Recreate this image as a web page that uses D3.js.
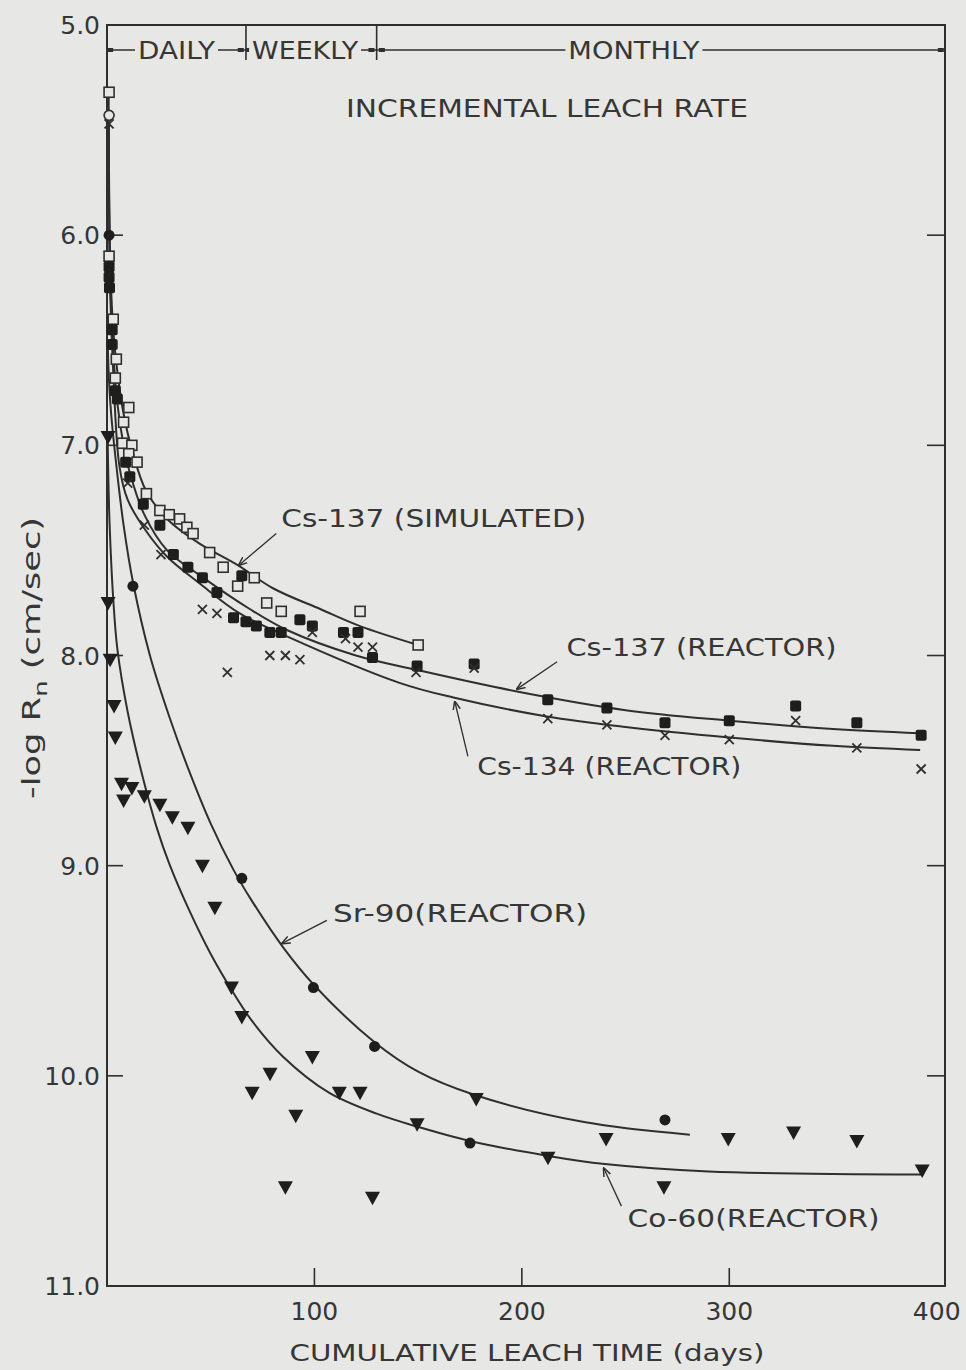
<!DOCTYPE html>
<html>
<head>
<meta charset="utf-8">
<script src="https://cdn.jsdelivr.net/npm/d3@7"></script>
<style>
body { margin: 0; background: #e7e7e5; }
text { font-family: "DejaVu Sans", sans-serif; fill: #363636; }
</style>
</head>
<body>
<div class="chart"></div>
<script>
var width = 966,
    height = 1370,
    ink = "#2f2f2f",
    paper = "#e7e7e5";

// axis ticks
var yTicks = [5, 6, 7, 8, 9, 10, 11];
var xTicks = [100, 200, 300, 400];
var innerYTicks = [6, 7, 8, 9, 10];
var innerXTicks = [100, 200, 300];

// leach periods (days)
var periodBreaks = [67, 130];
var periodLabels = ["DAILY", "WEEKLY", "MONTHLY"];
var periodLabelDays = [33.5, 95.5, 254];

// measured points [day, -log Rn]
var cs137SimPts = [[1,5.32],[1,6.10],[3,6.40],[4.5,6.59],[4,6.68],[10.5,6.82],[8,6.89],[7.5,6.99],[12,7.0],
  [10.5,7.04],[14.5,7.08],[19,7.23],[25.5,7.31],[30,7.33],[35,7.35],[38.5,7.39],[41.5,7.42],[49.5,7.51],
  [56,7.58],[63,7.67],[71,7.63],[77,7.75],[84,7.79],[122,7.79],[150,7.95]];
var cs137RctPts = [[1,6.15],[1,6.2],[1.2,6.25],[2.5,6.45],[2.5,6.52],[4,6.74],[5,6.78],[9,7.08],[11,7.15],
  [17.5,7.28],[25.5,7.38],[32,7.52],[39,7.58],[46,7.63],[53,7.70],[61,7.82],[65,7.62],[67,7.84],[72,7.86],
  [78.5,7.89],[84,7.89],[93,7.83],[99,7.86],[114,7.89],[121,7.89],[128,8.01],[149.5,8.05],[177,8.04],
  [212.5,8.21],[241,8.25],[269,8.32],[300,8.31],[332,8.24],[361.5,8.32],[392.5,8.38]];
var cs134Pts = [[1,5.47],[10,7.18],[18,7.38],[26,7.52],[46,7.78],[53,7.80],[58,8.08],[78.5,8.0],[86,8.0],
  [93,8.02],[99,7.89],[115,7.92],[121,7.96],[128,7.96],[149,8.08],[177,8.06],[212.5,8.30],[241,8.33],
  [269,8.38],[300,8.40],[332,8.31],[361.5,8.44],[392.5,8.54]];
var sr90Pts = [[1,6.0],[12.5,7.67],[65,9.06],[99.5,9.58],[129,9.86],[175,10.32],[269,10.21]];
var co60Pts = [[0.5,6.96],[0.5,7.75],[1.5,8.02],[3.4,8.24],[4,8.39],[7,8.61],[8,8.69],[12,8.63],[18,8.67],
  [25.5,8.71],[31.5,8.77],[39,8.82],[46,9.0],[52,9.2],[60,9.58],[65,9.72],[70,10.08],[78.6,9.99],[86,10.53],
  [91,10.19],[99,9.91],[112,10.08],[122,10.08],[128,10.58],[149.5,10.23],[178,10.11],[212.6,10.39],
  [240.6,10.3],[268.5,10.53],[299.5,10.30],[331,10.27],[361.5,10.31],[393,10.45]];
var openCirclePts = [[1,5.43]];

// fitted curves [day, -log Rn]
var cs137SimFit = [[0.8,5.32],[1.5,6.1],[3,6.45],[5,6.65],[8,6.85],[12,7.02],[19,7.22],[30,7.36],[45,7.47],
  [63,7.57],[80,7.68],[103,7.78],[122,7.86],[150,7.95]];
var cs137RctFit = [[0.8,5.45],[1.5,6.2],[3,6.55],[5,6.8],[8,7.0],[11,7.13],[18,7.33],[29,7.5],[45,7.62],
  [69,7.78],[87,7.88],[120,8.0],[150,8.07],[197,8.17],[250,8.26],[300,8.31],[350,8.35],[392,8.37]];
var cs134Fit = [[0.8,5.47],[1.5,6.25],[3,6.65],[6,7.1],[10,7.26],[19,7.41],[29,7.53],[45,7.66],[64,7.80],
  [87,7.91],[141,8.13],[167,8.2],[212,8.29],[250,8.34],[300,8.39],[350,8.43],[392,8.45]];
var sr90Fit = [[0.3,6.5],[1,6.7],[2,6.85],[4,7.05],[8,7.38],[12.5,7.65],[20.7,8.0],[30,8.29],[40,8.56],
  [50,8.8],[61,9.02],[70,9.17],[85,9.39],[100,9.57],[129,9.84],[150,9.98],[177,10.09],[230,10.22],[281,10.28]];
var co60Fit = [[0.3,6.97],[1,7.3],[2,7.55],[3,7.73],[5,7.97],[10,8.27],[17,8.57],[24,8.82],[30,8.99],
  [40,9.22],[50,9.42],[60,9.59],[70,9.74],[85,9.91],[107,10.08],[130,10.18],[149,10.24],[175,10.31],
  [212,10.38],[240,10.42],[290,10.455],[393,10.47]];

var timelinesvg = d3.select(".chart").append("svg")
    .attr("width", width)
    .attr("height", height)
    .style("display", "block");

timelinesvg.append("rect")
    .attr("width", width)
    .attr("height", height)
    .attr("fill", paper);

var x = d3.scaleLinear().domain([0, 404]).range([107, 945]);
var y = d3.scaleLinear().domain([5, 11]).range([25, 1286]);

// frame
timelinesvg.append("rect")
    .attr("x", x(0)).attr("y", y(5))
    .attr("width", x(404) - x(0)).attr("height", y(11) - y(5))
    .attr("fill", "none").attr("stroke", ink).attr("stroke-width", 2);

var axes = timelinesvg.append("g").attr("class", "axes");

axes.selectAll(".ltick").data(innerYTicks).enter().append("line")
    .attr("x1", x(0)).attr("x2", x(0) + 16)
    .attr("y1", function(d) { return y(d); }).attr("y2", function(d) { return y(d); })
    .attr("stroke", ink).attr("stroke-width", 1.6);

axes.selectAll(".rtick").data(innerYTicks).enter().append("line")
    .attr("x1", x(404)).attr("x2", x(404) - 18)
    .attr("y1", function(d) { return y(d); }).attr("y2", function(d) { return y(d); })
    .attr("stroke", ink).attr("stroke-width", 1.6);

axes.selectAll(".xtick").data(innerXTicks).enter().append("line")
    .attr("x1", function(d) { return x(d); }).attr("x2", function(d) { return x(d); })
    .attr("y1", y(11)).attr("y2", y(11) - 18)
    .attr("stroke", ink).attr("stroke-width", 1.6);

axes.selectAll(".ylab").data(yTicks).enter().append("text")
    .text(function(d) { return d.toFixed(1); })
    .attr("x", x(0) - 7)
    .attr("y", function(d) { return y(d); })
    .attr("dy", "0.36em")
    .attr("text-anchor", "end")
    .attr("font-size", "25px");

axes.selectAll(".xlab").data(xTicks).enter().append("text")
    .text(function(d) { return d; })
    .attr("x", function(d) { return x(d); })
    .attr("y", y(11) + 34)
    .attr("text-anchor", "middle")
    .attr("font-size", "25px");

axes.append("text")
    .text("CUMULATIVE LEACH TIME (days)")
    .attr("x", 527).attr("y", 1361)
    .attr("text-anchor", "middle")
    .attr("font-size", "23px")
    .attr("textLength", 475).attr("lengthAdjust", "spacingAndGlyphs");

var ylabel = axes.append("text")
    .attr("transform", "translate(40,658) rotate(-90)")
    .attr("text-anchor", "middle")
    .attr("font-size", "24px")
    .attr("textLength", 282).attr("lengthAdjust", "spacingAndGlyphs");
ylabel.append("tspan").text("-log R");
ylabel.append("tspan").text("n").attr("dy", 7).attr("font-size", "18px");
ylabel.append("tspan").text(" (cm/sec)").attr("dy", -7);

// leach period bracket
var bracketY = 50;
var bracket = timelinesvg.append("g").attr("class", "bracket");
bracket.append("line")
    .attr("x1", x(0) + 4).attr("x2", x(404) - 3)
    .attr("y1", bracketY).attr("y2", bracketY)
    .attr("stroke", ink).attr("stroke-width", 1.5);
bracket.selectAll(".brk").data(periodBreaks).enter().append("line")
    .attr("x1", function(d) { return x(d); }).attr("x2", function(d) { return x(d); })
    .attr("y1", y(5)).attr("y2", 60)
    .attr("stroke", ink).attr("stroke-width", 1.6);
var dotDays = [1.5, periodBreaks[0] - 2.5, periodBreaks[0] + 1.5, periodBreaks[1] - 2.5, periodBreaks[1] + 2.5, 402];
bracket.selectAll(".dot").data(dotDays).enter().append("rect")
    .attr("x", function(d) { return x(d) - 3; }).attr("y", bracketY - 2)
    .attr("width", 6).attr("height", 4)
    .attr("fill", ink);
var plabels = bracket.selectAll(".plab").data(periodLabels).enter().append("g");
var plabelLens = [77, 106, 131];
plabels.append("rect")
    .attr("x", function(d, i) { return x(periodLabelDays[i]) - plabelLens[i] / 2 - 3; })
    .attr("y", bracketY - 10).attr("height", 20)
    .attr("width", function(d, i) { return plabelLens[i] + 6; })
    .attr("fill", paper);
plabels.append("text")
    .text(function(d) { return d; })
    .attr("x", function(d, i) { return x(periodLabelDays[i]); })
    .attr("y", bracketY + 9)
    .attr("text-anchor", "middle")
    .attr("font-size", "24px")
    .attr("textLength", function(d, i) { return plabelLens[i]; })
    .attr("lengthAdjust", "spacingAndGlyphs");

timelinesvg.append("text")
    .text("INCREMENTAL LEACH RATE")
    .attr("x", 346).attr("y", 117)
    .attr("font-size", "25px")
    .attr("textLength", 402).attr("lengthAdjust", "spacingAndGlyphs");

// fitted curves
var line = d3.line()
    .x(function(d) { return x(d[0]); })
    .y(function(d) { return y(d[1]); })
    .curve(d3.curveCatmullRom.alpha(0.5));

var curves = timelinesvg.append("g").attr("class", "curves");
[cs137SimFit, cs137RctFit, cs134Fit, sr90Fit, co60Fit].forEach(function(c) {
  curves.append("path")
      .attr("d", line(c))
      .attr("fill", "none")
      .attr("stroke", ink)
      .attr("stroke-width", 2);
});

// annotations: label start, arrow tail, arrow tip (data units)
var notes = [
  {text: "Cs-137 (SIMULATED)", day: 84, val: 7.39, len: 305, tail: [81.6, 7.42], tip: [63.6, 7.57]},
  {text: "Cs-137 (REACTOR)", day: 221.5, val: 8.0, len: 270, tail: [217, 8.03], tip: [197.6, 8.16]},
  {text: "Cs-134 (REACTOR)", day: 178.5, val: 8.57, len: 264, tail: [174, 8.48], tip: [167.7, 8.22]},
  {text: "Sr-90(REACTOR)", day: 109, val: 9.27, len: 254, tail: [106, 9.26], tip: [84.4, 9.37]},
  {text: "Co-60(REACTOR)", day: 251, val: 10.72, len: 252, tail: [248, 10.62], tip: [239.5, 10.44]}
];

timelinesvg.append("defs").append("marker")
    .attr("id", "arr")
    .attr("viewBox", "0 0 10 10")
    .attr("refX", 9).attr("refY", 5)
    .attr("markerWidth", 9).attr("markerHeight", 9)
    .attr("markerUnits", "userSpaceOnUse")
    .attr("orient", "auto")
  .append("path")
    .attr("d", "M0,1L10,5L0,9")
    .attr("fill", "none")
    .attr("stroke", ink)
    .attr("stroke-width", 1.6);

var ann = timelinesvg.append("g").attr("class", "notes");
ann.selectAll(".arrow").data(notes).enter().append("line")
    .attr("x1", function(d) { return x(d.tail[0]); })
    .attr("y1", function(d) { return y(d.tail[1]); })
    .attr("x2", function(d) { return x(d.tip[0]); })
    .attr("y2", function(d) { return y(d.tip[1]); })
    .attr("stroke", ink).attr("stroke-width", 1.3)
    .attr("marker-end", "url(#arr)");
ann.selectAll(".lab").data(notes).enter().append("text")
    .text(function(d) { return d.text; })
    .attr("x", function(d) { return x(d.day); })
    .attr("y", function(d) { return y(d.val); })
    .attr("font-size", "24px")
    .attr("textLength", function(d) { return d.len; })
    .attr("lengthAdjust", "spacingAndGlyphs");

// markers
var pts = timelinesvg.append("g").attr("class", "points");
function place(d) { return "translate(" + x(d[0]) + "," + y(d[1]) + ")"; }

pts.selectAll(".opensq").data(cs137SimPts).enter().append("rect")
    .attr("transform", place)
    .attr("x", -5).attr("y", -5).attr("width", 10).attr("height", 10)
    .attr("fill", paper).attr("stroke", ink).attr("stroke-width", 1.6);

pts.selectAll(".opencirc").data(openCirclePts).enter().append("circle")
    .attr("transform", place)
    .attr("r", 5)
    .attr("fill", paper).attr("stroke", ink).attr("stroke-width", 1.6);

pts.selectAll(".fillsq").data(cs137RctPts).enter().append("rect")
    .attr("transform", place)
    .attr("x", -5.5).attr("y", -5.5).attr("width", 11).attr("height", 11)
    .attr("rx", 2)
    .attr("fill", "#1e1e1e");

pts.selectAll(".xmark").data(cs134Pts).enter().append("path")
    .attr("transform", place)
    .attr("d", "M-4.5,-4.5L4.5,4.5M-4.5,4.5L4.5,-4.5")
    .attr("stroke", ink).attr("stroke-width", 1.8);

pts.selectAll(".circ").data(sr90Pts).enter().append("circle")
    .attr("transform", place)
    .attr("r", 5.5)
    .attr("fill", "#1e1e1e");

pts.selectAll(".tri").data(co60Pts).enter().append("path")
    .attr("transform", place)
    .attr("d", "M-7.5,-6L7.5,-6L0,7.5Z")
    .attr("fill", "#1e1e1e");
</script>
</body>
</html>
